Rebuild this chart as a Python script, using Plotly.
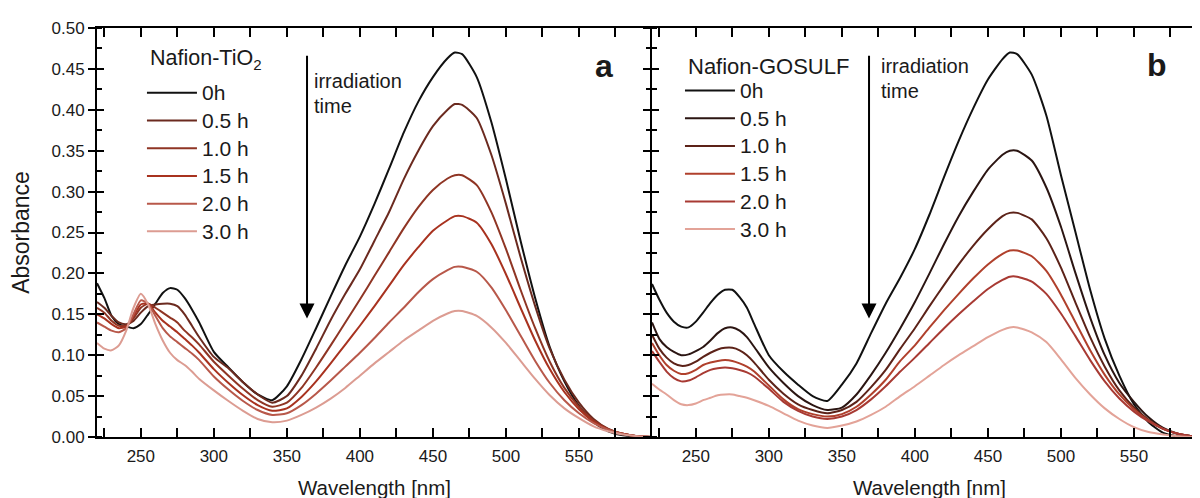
import plotly.graph_objects as go

# ---------------- data ----------------
wavelength = [220, 225, 230, 235, 240, 245, 250, 255, 260, 265, 270, 275, 280, 285, 290,
              300, 310, 320, 330, 340, 350, 360, 370, 380, 390, 400, 410, 420, 430, 440,
              450, 460, 465, 470, 480, 490, 500, 510, 520, 530, 540, 550, 560, 570, 580, 590, 600]

time_labels = ["0h", "0.5 h", "1.0 h", "1.5 h", "2.0 h", "3.0 h"]

# Panel a: Nafion-TiO2
a_0h = [0.188, 0.170, 0.148, 0.138, 0.135, 0.133, 0.138, 0.150, 0.163, 0.176, 0.182, 0.180, 0.170, 0.156, 0.140,
        0.104, 0.085, 0.067, 0.052, 0.045, 0.062, 0.095, 0.133, 0.172, 0.210, 0.245, 0.285, 0.328, 0.372, 0.410,
        0.440, 0.463, 0.470, 0.468, 0.440, 0.385, 0.315, 0.240, 0.170, 0.110, 0.068, 0.038, 0.018, 0.007, 0.002, 0.0005, 0.0]
a_05h = [0.165, 0.158, 0.148, 0.140, 0.138, 0.142, 0.152, 0.160, 0.162, 0.163, 0.163, 0.160, 0.150, 0.136, 0.122,
         0.098, 0.084, 0.067, 0.052, 0.042, 0.050, 0.075, 0.108, 0.143, 0.175, 0.205, 0.240, 0.275, 0.315, 0.350,
         0.380, 0.400, 0.407, 0.406, 0.390, 0.345, 0.285, 0.220, 0.160, 0.108, 0.070, 0.042, 0.022, 0.010, 0.004, 0.001, 0.0]
a_10h = [0.158, 0.152, 0.142, 0.136, 0.136, 0.145, 0.158, 0.163, 0.158, 0.152, 0.146, 0.140, 0.130, 0.122, 0.113,
         0.092, 0.075, 0.059, 0.045, 0.037, 0.042, 0.060, 0.085, 0.112, 0.140, 0.168, 0.197, 0.226, 0.255, 0.281,
         0.302, 0.316, 0.320, 0.320, 0.308, 0.275, 0.230, 0.180, 0.133, 0.092, 0.060, 0.037, 0.020, 0.010, 0.004, 0.001, 0.0]
a_15h = [0.150, 0.145, 0.138, 0.133, 0.135, 0.148, 0.162, 0.163, 0.152, 0.142, 0.135, 0.128, 0.120, 0.112, 0.103,
         0.083, 0.066, 0.051, 0.039, 0.032, 0.035, 0.049, 0.068, 0.090, 0.113, 0.136, 0.160, 0.185, 0.210, 0.232,
         0.252, 0.265, 0.270, 0.270, 0.262, 0.236, 0.199, 0.158, 0.118, 0.083, 0.055, 0.034, 0.019, 0.009, 0.004, 0.001, 0.0]
a_20h = [0.140, 0.135, 0.130, 0.128, 0.133, 0.150, 0.167, 0.163, 0.148, 0.133, 0.123, 0.116, 0.109, 0.102, 0.094,
         0.074, 0.058, 0.044, 0.033, 0.027, 0.029, 0.039, 0.053, 0.069, 0.086, 0.103, 0.121, 0.140, 0.158, 0.177,
         0.193, 0.204, 0.208, 0.208, 0.202, 0.183, 0.155, 0.124, 0.093, 0.066, 0.045, 0.029, 0.017, 0.009, 0.004, 0.001, 0.0]
a_30h = [0.115, 0.108, 0.106, 0.112, 0.130, 0.158, 0.175, 0.162, 0.138, 0.118, 0.103, 0.094, 0.088, 0.080, 0.071,
         0.057, 0.044, 0.032, 0.022, 0.018, 0.020, 0.027, 0.036, 0.047, 0.060, 0.075, 0.090, 0.104, 0.118, 0.130,
         0.142, 0.151, 0.154, 0.154, 0.148, 0.134, 0.115, 0.093, 0.071, 0.051, 0.035, 0.023, 0.013, 0.007, 0.003, 0.001, 0.0]

# Panel b: Nafion-GOSULF
b_0h = [0.187, 0.168, 0.152, 0.141, 0.135, 0.134, 0.141, 0.152, 0.164, 0.174, 0.180, 0.180, 0.171, 0.158, 0.138,
        0.100, 0.080, 0.064, 0.050, 0.044, 0.064, 0.090, 0.127, 0.163, 0.195, 0.230, 0.272, 0.318, 0.362, 0.402,
        0.437, 0.462, 0.470, 0.468, 0.443, 0.393, 0.320, 0.250, 0.180, 0.120, 0.075, 0.040, 0.018, 0.005, 0.001, 0.0, 0.0]
b_05h = [0.140, 0.120, 0.110, 0.104, 0.100, 0.101, 0.105, 0.110, 0.118, 0.127, 0.133, 0.134, 0.130, 0.122, 0.110,
         0.085, 0.066, 0.050, 0.039, 0.033, 0.036, 0.052, 0.076, 0.103, 0.133, 0.165, 0.200, 0.236, 0.270, 0.300,
         0.327, 0.345, 0.350, 0.350, 0.338, 0.305, 0.257, 0.200, 0.146, 0.100, 0.066, 0.043, 0.024, 0.011, 0.004, 0.001, 0.0]
b_10h = [0.125, 0.108, 0.097, 0.090, 0.087, 0.088, 0.092, 0.098, 0.103, 0.107, 0.109, 0.109, 0.106, 0.100, 0.091,
         0.070, 0.053, 0.040, 0.033, 0.029, 0.033, 0.043, 0.061, 0.082, 0.108, 0.133, 0.160, 0.186, 0.211, 0.234,
         0.254, 0.270, 0.274, 0.274, 0.266, 0.243, 0.207, 0.164, 0.122, 0.086, 0.057, 0.036, 0.021, 0.010, 0.004, 0.001, 0.0]
b_15h = [0.115, 0.100, 0.088, 0.081, 0.077, 0.078, 0.082, 0.088, 0.091, 0.093, 0.094, 0.093, 0.090, 0.086, 0.080,
         0.063, 0.046, 0.034, 0.028, 0.025, 0.028, 0.037, 0.052, 0.070, 0.093, 0.112, 0.134, 0.155, 0.175, 0.194,
         0.211, 0.224, 0.228, 0.228, 0.221, 0.203, 0.174, 0.140, 0.106, 0.076, 0.052, 0.034, 0.020, 0.010, 0.004, 0.001, 0.0]
b_20h = [0.105, 0.092, 0.080, 0.072, 0.068, 0.069, 0.073, 0.078, 0.082, 0.084, 0.085, 0.084, 0.082, 0.079, 0.074,
         0.059, 0.043, 0.032, 0.025, 0.022, 0.025, 0.033, 0.046, 0.062, 0.080, 0.097, 0.115, 0.133, 0.150, 0.166,
         0.181, 0.192, 0.196, 0.196, 0.190, 0.175, 0.151, 0.123, 0.094, 0.068, 0.047, 0.031, 0.019, 0.010, 0.004, 0.001, 0.0]
b_30h = [0.065, 0.058, 0.052, 0.045, 0.040, 0.039, 0.041, 0.045, 0.048, 0.051, 0.052, 0.052, 0.050, 0.048, 0.045,
         0.038, 0.029, 0.020, 0.014, 0.011, 0.014, 0.019, 0.027, 0.037, 0.050, 0.062, 0.075, 0.088, 0.100, 0.111,
         0.122, 0.131, 0.134, 0.134, 0.128, 0.116, 0.095, 0.072, 0.052, 0.035, 0.022, 0.012, 0.006, 0.003, 0.001, 0.0, 0.0]

x_tick_vals = [250, 300, 350, 400, 450, 500, 550]
x_minor_vals = [225, 275, 325, 375, 425, 475, 525, 575]

colors_a = ["#111111", "#6b2a1f", "#8f3524", "#a8321f", "#b8584a", "#dc9c92"]
colors_b = ["#111111", "#2b1512", "#5c2218", "#b0402c", "#a83a33", "#e3a398"]

series_a = [a_0h, a_05h, a_10h, a_15h, a_20h, a_30h]
series_b = [b_0h, b_05h, b_10h, b_15h, b_20h, b_30h]

FONT = "Arial, Liberation Sans, sans-serif"
TXT = "#1a1a1a"


def legend_name(s):
    # larger glyphs while the legend keeps its row spacing
    return '<span style="font-size:21px">' + s + "</span>"


fig = go.Figure()
for i, (lab, ys) in enumerate(zip(time_labels, series_a)):
    fig.add_trace(go.Scatter(x=wavelength, y=ys, mode="lines", name=legend_name(lab),
                             line=dict(color=colors_a[i], width=2, shape="spline", smoothing=0.6),
                             xaxis="x", yaxis="y3" if i == 5 else "y", legend="legend"))
for i, (lab, ys) in enumerate(zip(time_labels, series_b)):
    fig.add_trace(go.Scatter(x=wavelength, y=ys, mode="lines", name=legend_name(lab),
                             line=dict(color=colors_b[i], width=2, shape="spline", smoothing=0.6),
                             xaxis="x2", yaxis="y4" if i == 5 else "y2", legend="legend2"))

xcommon = dict(showline=True, linewidth=2, linecolor="black", mirror="allticks",
               ticks="inside", ticklen=9, tickwidth=1.5, tickcolor="black",
               tickmode="array", tickvals=x_tick_vals, ticklabelstandoff=3,
               minor=dict(tickmode="array", tickvals=x_minor_vals, ticks="inside", ticklen=5,
                          tickwidth=1.5, tickcolor="black"),
               showgrid=False, zeroline=False,
               tickfont=dict(size=17, color=TXT),
               title=dict(text="Wavelength [nm]", font=dict(size=20.5, color=TXT), standoff=15))

ycommon = dict(range=[0, 0.5], showline=True, linewidth=2, linecolor="black",
               ticks="outside", ticklen=7, tickwidth=1.5, tickcolor="black",
               tickmode="linear", tick0=0, dtick=0.05, tickformat=".2f",
               minor=dict(dtick=0.025, ticks="inside", ticklen=5, tickwidth=1.5, tickcolor="black"),
               showgrid=False, zeroline=False)

yover = dict(range=[0, 0.5], showline=False, ticks="inside", ticklen=7, tickwidth=1.5,
             tickcolor="black", tickmode="linear", tick0=0, dtick=0.05, showticklabels=False,
             showgrid=False, zeroline=False)

fig.update_layout(
    width=1200, height=498,
    # the page body adds an 8px offset; margins compensate so the plot sits where the reference has it
    margin=dict(l=89, r=1, t=20, b=69),
    paper_bgcolor="white", plot_bgcolor="white",
    font=dict(family=FONT, color=TXT),
    xaxis=dict(domain=[0, 0.5], range=[220, 600], anchor="y", **xcommon),
    xaxis2=dict(domain=[0.5, 1], range=[220, 600], anchor="y2", **xcommon),
    yaxis=dict(anchor="x", showticklabels=True, tickfont=dict(size=17, color=TXT),
               title=dict(text="Absorbance", font=dict(size=23, color=TXT), standoff=18),
               **ycommon),
    yaxis2=dict(anchor="x2", showticklabels=False, **ycommon),
    yaxis3=dict(anchor="x", overlaying="y", side="left", **yover),
    yaxis4=dict(anchor="x2", overlaying="y2", side="left",
                minor=dict(dtick=0.025, ticks="outside", ticklen=5, tickwidth=1.5, tickcolor="black"),
                **yover),
    legend=dict(x=0.0405, y=0.8875, xanchor="left", yanchor="top", bgcolor="rgba(0,0,0,0)",
                font=dict(size=19, color=TXT), itemwidth=50, tracegroupgap=0),
    legend2=dict(x=0.5252, y=0.893, xanchor="left", yanchor="top", bgcolor="rgba(0,0,0,0)",
                 font=dict(size=19, color=TXT), itemwidth=50, tracegroupgap=0),
    showlegend=True,
)

# legend headings
fig.add_annotation(x=0.0459, y=0.9218, xref="paper", yref="paper", text="Nafion-TiO<sub>2</sub>",
                   showarrow=False, xanchor="left", yanchor="middle", font=dict(size=21.5, color=TXT))
fig.add_annotation(x=0.5306, y=0.905, xref="paper", yref="paper", text="Nafion-GOSULF",
                   showarrow=False, xanchor="left", yanchor="middle", font=dict(size=22, color=TXT))

# arrows and labels
fig.add_annotation(x=363.8, y=0.145, ax=363.8, ay=0.468, xref="x", yref="y", axref="x", ayref="y",
                   text="", showarrow=True, arrowhead=2, arrowsize=1.5, arrowwidth=2, arrowcolor="black")
fig.add_annotation(x=368.6, y=0.145, ax=368.6, ay=0.468, xref="x2", yref="y2", axref="x2", ayref="y2",
                   text="", showarrow=True, arrowhead=2, arrowsize=1.5, arrowwidth=2, arrowcolor="black")
fig.add_annotation(x=367.5, y=0.435, xref="x", yref="y", text="irradiation", showarrow=False,
                   xanchor="left", yanchor="middle", font=dict(size=20, color=TXT))
fig.add_annotation(x=367.5, y=0.405, xref="x", yref="y", text="time", showarrow=False,
                   xanchor="left", yanchor="middle", font=dict(size=20, color=TXT))
fig.add_annotation(x=375.5, y=0.4537, xref="x2", yref="y2", text="irradiation", showarrow=False,
                   xanchor="left", yanchor="middle", font=dict(size=20, color=TXT))
fig.add_annotation(x=375.5, y=0.423, xref="x2", yref="y2", text="time", showarrow=False,
                   xanchor="left", yanchor="middle", font=dict(size=20, color=TXT))
fig.add_annotation(x=567, y=0.453, xref="x", yref="y", text="<b>a</b>", showarrow=False,
                   xanchor="center", yanchor="middle", font=dict(size=32, color=TXT))
fig.add_annotation(x=566, y=0.455, xref="x2", yref="y2", text="<b>b</b>", showarrow=False,
                   xanchor="center", yanchor="middle", font=dict(size=32, color=TXT))

fig.write_html("out.html")
